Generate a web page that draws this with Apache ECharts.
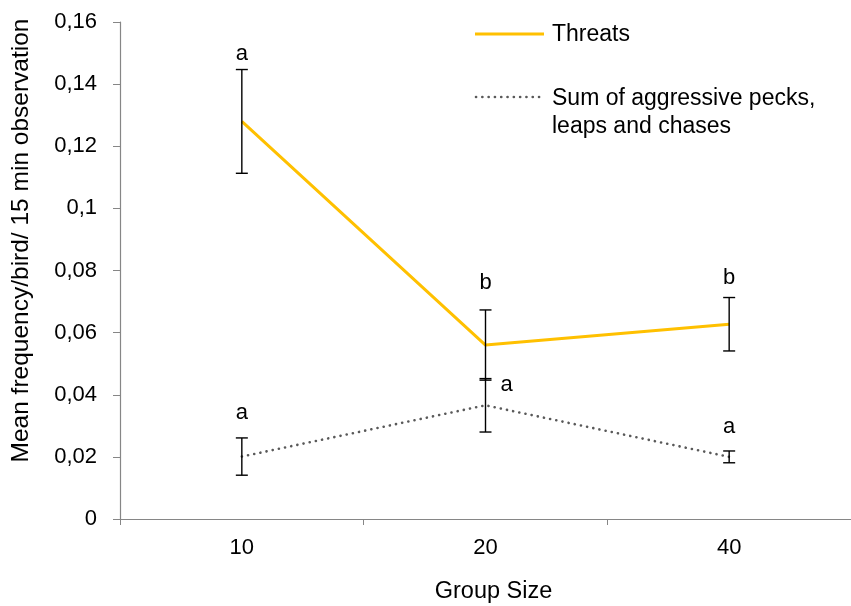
<!DOCTYPE html>
<html>
<head>
<meta charset="utf-8">
<script src="https://cdn.jsdelivr.net/npm/echarts@6/dist/echarts.min.js"></script>
<style>
  html, body { margin: 0; padding: 0; background: #fff; }
  #chart { width: 851px; height: 606px; }
</style>
</head>
<body>
<div id="chart"></div>
<script>
// Group sizes on the x axis
const groupSizes = ['10', '20', '40'];

// Threat displays: mean and standard error
const threatsMean = [0.128, 0.056, 0.0627];
const threatsErr = [0.0167, 0.0113, 0.0086];
const threatsLetters = ['a', 'b', 'b'];

// Aggressive pecks, leaps and chases combined
const sumMean = [0.0201, 0.0366, 0.0200];
const sumErr = [0.006, 0.0086, 0.0019];
const sumLetters = ['a', 'a', 'a'];

// Y tick values
const yTicks = [0, 0.02, 0.04, 0.06, 0.08, 0.1, 0.12, 0.14, 0.16];

const FONT = 'Liberation Sans, Arial, sans-serif';

// Letter placement: pixels above the upper cap, or 'right' to sit beside the bar
const threatsLetterLift = [16, 27, 20];
const sumLetterLift = [25, 'right', 24];

function errorData(means, errs) {
  return means.map((m, i) => [i, m, errs[i]]);
}

// Error bar with caps plus significance letter
function makeErrorRenderer(letters, lifts) {
  return function (params, api) {
    const i = api.value(0);
    const m = api.value(1);
    const e = api.value(2);
    const k = params.dataIndex;
    const top = api.coord([i, m + e]);
    const bot = api.coord([i, m - e]);
    const cap = 6;
    const style = { stroke: '#000', lineWidth: 1.4 };
    const children = [
      { type: 'line', shape: { x1: top[0], y1: top[1], x2: bot[0], y2: bot[1] }, style },
      { type: 'line', shape: { x1: top[0] - cap, y1: top[1], x2: top[0] + cap, y2: top[1] }, style },
      { type: 'line', shape: { x1: bot[0] - cap, y1: bot[1], x2: bot[0] + cap, y2: bot[1] }, style }
    ];
    const beside = lifts[k] === 'right';
    children.push({
      type: 'text',
      style: {
        text: letters[k],
        x: beside ? top[0] + 21 : top[0],
        y: beside ? top[1] + 6 : top[1] - lifts[k],
        align: 'center',
        verticalAlign: 'middle',
        fill: '#000',
        font: '22px ' + FONT
      }
    });
    return { type: 'group', children };
  };
}

const chart = echarts.init(document.getElementById('chart'), null, { renderer: 'canvas' });

chart.setOption({
  animation: false,
  backgroundColor: '#fff',
  grid: { left: 120, right: 0, top: 22, bottom: 87, containLabel: false, outerBoundsMode: 'none' },
  xAxis: {
    type: 'category',
    data: groupSizes,
    boundaryGap: true,
    name: 'Group Size',
    nameLocation: 'middle',
    nameGap: 61,
    nameTextStyle: { fontSize: 23.5, color: '#000', fontFamily: FONT, padding: [0, 0, 0, 16] },
    axisLine: { lineStyle: { color: '#868686', width: 1.2 } },
    axisTick: { show: true, length: 6, lineStyle: { color: '#868686' } },
    axisLabel: { fontSize: 22, color: '#000', fontFamily: FONT, margin: 18 },
    splitLine: { show: false }
  },
  yAxis: {
    type: 'value',
    min: 0,
    max: 0.16,
    interval: 0.02,
    name: 'Mean frequency/bird/ 15 min observation',
    nameLocation: 'middle',
    nameGap: 86,
    nameTextStyle: { fontSize: 24.5, color: '#000', fontFamily: FONT, padding: [0, 0, 0, 60] },
    axisLine: { show: true, lineStyle: { color: '#868686', width: 1.2 } },
    axisTick: { show: true, length: 7, lineStyle: { color: '#868686' } },
    axisLabel: {
      fontSize: 22, color: '#000', fontFamily: FONT, margin: 23,
      formatter: v => {
        const t = yTicks.find(k => Math.abs(k - v) < 1e-9);
        return String(t !== undefined ? t : +v.toFixed(2)).replace('.', ',');
      }
    },
    splitLine: { show: false }
  },
  series: [
    {
      name: 'Threats',
      type: 'line',
      data: threatsMean,
      symbol: 'none',
      lineStyle: { color: '#FFC000', width: 3 },
      z: 3
    },
    {
      name: 'Sum of aggressive pecks, leaps and chases',
      type: 'line',
      data: sumMean,
      symbol: 'none',
      lineStyle: { color: '#595959', width: 2.6, type: [0.1, 6.2], cap: 'round' },
      z: 3
    },
    {
      type: 'custom',
      data: errorData(threatsMean, threatsErr),
      renderItem: makeErrorRenderer(threatsLetters, threatsLetterLift),
      encode: { x: 0, y: 1 },
      z: 4
    },
    {
      type: 'custom',
      data: errorData(sumMean, sumErr),
      renderItem: makeErrorRenderer(sumLetters, sumLetterLift),
      encode: { x: 0, y: 1 },
      z: 4
    }
  ],
  graphic: [
    { type: 'line', shape: { x1: 475, y1: 34, x2: 544, y2: 34 }, style: { stroke: '#FFC000', lineWidth: 3 } },
    { type: 'text', style: { text: 'Threats', x: 552, y: 35, verticalAlign: 'middle', fill: '#000', font: '23px ' + FONT } },
    { type: 'line', shape: { x1: 476, y1: 97, x2: 541, y2: 97 }, style: { stroke: '#595959', lineWidth: 2.6, lineDash: [0.1, 6.2], lineCap: 'round' } },
    { type: 'text', style: { text: 'Sum of aggressive pecks,\nleaps and chases', x: 552, y: 85, lineHeight: 28, verticalAlign: 'top', fill: '#000', font: '23px ' + FONT } }
  ]
});
</script>
</body>
</html>
